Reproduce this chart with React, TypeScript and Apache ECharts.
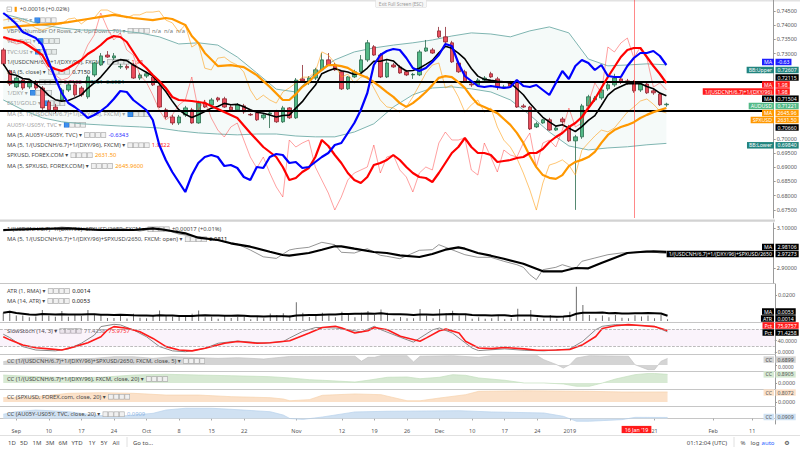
import React, { useEffect, useRef } from "react";
import * as echarts from "echarts";

const FONT = "'Noto Sans', 'DejaVu Sans', sans-serif";

// ---------- categories: trading days ----------
const FIRST_DAY = "2018-08-30";
const LAST_DAY = "2019-02-14";
const SKIPPED_DAYS = ["2018-12-25", "2019-01-01"];
const MONTH_NAMES = ["Jan", "Feb", "Mar", "Apr", "May", "Jun", "Jul", "Aug", "Sep", "Oct", "Nov", "Dec"];
const CROSSHAIR_INDEX = 97; // 16 Jan '19
const COVERED_TICKS = [95]; // "14" sits under the crosshair date label

function tradingDays() {
  const out: string[] = [];
  const d = new Date(FIRST_DAY + "T00:00:00Z");
  const end = new Date(LAST_DAY + "T00:00:00Z");
  while (d <= end) {
    const wd = d.getUTCDay();
    const s = d.toISOString().slice(0, 10);
    if (wd !== 0 && wd !== 6 && SKIPPED_DAYS.indexOf(s) < 0) out.push(s);
    d.setUTCDate(d.getUTCDate() + 1);
  }
  return out;
}
const days = tradingDays();

function buildTickLabels() {
  const res: Record<number, string> = {};
  const monthStarts: number[] = [];
  days.forEach((s, i) => {
    if (i > 0 && s.slice(5, 7) !== days[i - 1].slice(5, 7)) monthStarts.push(i);
  });
  monthStarts.forEach((i) => {
    const m = +days[i].slice(5, 7);
    res[i] = m === 1 ? days[i].slice(0, 4) : MONTH_NAMES[m - 1];
  });
  days.forEach((s, i) => {
    const wd = new Date(s + "T00:00:00Z").getUTCDay();
    if (wd === 1 && !(i in res) && COVERED_TICKS.indexOf(i) < 0 && monthStarts.every((m) => Math.abs(m - i) > 4))
      res[i] = String(+s.slice(8));
  });
  return res;
}
const TICK_LABELS = buildTickLabels();

// ---------- AUDUSD daily candles ----------
const audOpen = [0.7313,0.7239,0.7183,0.7207,0.7183,0.7200,0.7179,0.7130,0.7112,0.7137,
0.7172,0.7190,0.7179,0.7148,0.7225,0.7260,0.7295,0.7285,0.7253,0.7255,
0.7260,0.7214,0.7221,0.7218,0.7186,0.7102,0.7077,0.7056,0.7084,0.7102,
0.7056,0.7126,0.7119,0.7144,0.7141,0.7112,0.7102,0.7116,0.7086,0.7091,
0.7074,0.7088,0.7098,0.7060,0.7109,0.7074,0.7211,0.7197,0.7214,0.7243,
0.7278,0.7260,0.7236,0.7176,0.7218,0.7236,0.7278,0.7324,0.7295,0.7218,
0.7260,0.7253,0.7236,0.7225,0.7225,0.7309,0.7313,0.7380,0.7359,0.7338,
0.7267,0.7236,0.7193,0.7190,0.7207,0.7229,0.7211,0.7179,0.7197,0.7200,
0.7116,0.7112,0.7042,0.7056,0.7067,0.7031,0.7070,0.7042,0.6993,0.7007,
0.7116,0.7137,0.7144,0.7176,0.7190,0.7211,0.7204,0.7200,0.7172,0.7193,
0.7169,0.7158,0.7120];
const audClose = [0.7264,0.7193,0.7214,0.7179,0.7197,0.7179,0.7109,0.7102,0.7102,0.7172,
0.7190,0.7155,0.7155,0.7218,0.7267,0.7292,0.7288,0.7292,0.7255,0.7250,
0.7214,0.7225,0.7229,0.7190,0.7112,0.7077,0.7056,0.7077,0.7109,0.7056,
0.7126,0.7112,0.7137,0.7137,0.7112,0.7102,0.7119,0.7095,0.7084,0.7067,
0.7084,0.7091,0.7060,0.7109,0.7074,0.7207,0.7204,0.7214,0.7243,0.7278,
0.7260,0.7243,0.7176,0.7218,0.7236,0.7278,0.7338,0.7295,0.7218,0.7267,
0.7253,0.7232,0.7225,0.7227,0.7306,0.7320,0.7302,0.7359,0.7341,0.7271,
0.7236,0.7200,0.7190,0.7207,0.7214,0.7218,0.7183,0.7183,0.7186,0.7112,
0.7112,0.7035,0.7053,0.7067,0.7031,0.7038,0.7060,0.6993,0.7007,0.7116,
0.7148,0.7144,0.7172,0.7190,0.7214,0.7200,0.7197,0.7169,0.7193,0.7162,
0.7162,0.7120,0.71221];
const audHigh = [0.7320,0.7243,0.7221,0.7214,0.7204,0.7207,0.7186,0.7137,0.7123,0.7179,
0.7197,0.7197,0.7186,0.7225,0.7271,0.7302,0.7309,0.7302,0.7264,0.7262,
0.7267,0.7232,0.7236,0.7225,0.7190,0.7109,0.7084,0.7084,0.7116,0.7109,
0.7134,0.7137,0.7144,0.7148,0.7148,0.7119,0.7126,0.7123,0.7091,0.7095,
0.7088,0.7095,0.7102,0.7116,0.7112,0.7214,0.7260,0.7221,0.7250,0.7302,
0.7302,0.7267,0.7240,0.7221,0.7243,0.7295,0.7348,0.7330,0.7302,0.7278,
0.7267,0.7260,0.7243,0.7232,0.7313,0.7348,0.7320,0.7394,0.7394,0.7345,
0.7274,0.7243,0.7200,0.7214,0.7221,0.7236,0.7218,0.7190,0.7204,0.7204,
0.7123,0.7116,0.7060,0.7070,0.7074,0.7045,0.7077,0.7049,0.7014,0.7123,
0.7155,0.7151,0.7179,0.7197,0.7229,0.7218,0.7211,0.7207,0.7200,0.7200,
0.7176,0.7165,0.7127];
const audLow = [0.7257,0.7186,0.7179,0.7172,0.7176,0.7172,0.7102,0.7095,0.7091,0.7130,
0.7165,0.7148,0.7148,0.7141,0.7218,0.7257,0.7285,0.7278,0.7246,0.7243,
0.7211,0.7207,0.7214,0.7186,0.7109,0.7070,0.7049,0.7049,0.7077,0.7053,
0.7053,0.7109,0.7112,0.7130,0.7109,0.7095,0.7095,0.7088,0.7081,0.7063,
0.7067,0.7038,0.7056,0.7056,0.7070,0.7070,0.7197,0.7190,0.7207,0.7239,
0.7257,0.7239,0.7172,0.7172,0.7214,0.7232,0.7271,0.7292,0.7214,0.7214,
0.7250,0.7229,0.7221,0.7211,0.7221,0.7306,0.7299,0.7355,0.7334,0.7267,
0.7232,0.7197,0.7183,0.7186,0.7204,0.7214,0.7172,0.7176,0.7183,0.7109,
0.7109,0.7031,0.7038,0.7053,0.7028,0.7028,0.7053,0.6989,0.6750,0.7000,
0.7109,0.7130,0.7137,0.7169,0.7183,0.7193,0.7190,0.7162,0.7165,0.7158,
0.7155,0.7116,0.7113];

// Bollinger bands (20, 2), read every 3rd bar
const BB_IDX = [0,3,6,9,12,15,18,21,24,27,30,33,36,39,42,45,48,51,54,57,60,63,66,69,72,75,78,81,84,87,90,93,96,99,102];
const bbUpper = [0.7440,0.7422,0.7401,0.7390,0.7383,0.7383,0.7380,0.7373,0.7359,0.7334,
0.7338,0.7330,0.7288,0.7232,0.7175,0.7165,0.7232,0.7278,0.7306,0.7320,
0.7330,0.7338,0.7348,0.7362,0.7373,0.7369,0.7359,0.7380,0.7394,0.7373,
0.7281,0.7257,0.7260,0.7264,0.72607];
const bbLower = [0.7137,0.7102,0.7074,0.7060,0.7053,0.7049,0.7045,0.7042,0.7038,0.7028,
0.7021,0.7017,0.7014,0.7017,0.7017,0.7010,0.7007,0.7007,0.7024,0.7053,
0.7112,0.7155,0.7179,0.7183,0.7176,0.7165,0.7137,0.7084,0.7024,0.6975,
0.6961,0.6968,0.6972,0.6979,0.6984];
const LEVEL_LINES = [0.72115, 0.7066];

// 1/(USDCNH/6.7)+1/(DXY/96), FXCM
const cnhDxy = [1.9900,1.9894,1.9888,1.9890,1.9892,1.9880,1.9856,1.9836,1.9826,1.9816,
1.9820,1.9836,1.9856,1.9886,1.9906,1.9950,1.9920,1.9896,1.9910,1.9876,
1.9866,1.9826,1.9812,1.9786,1.9756,1.9736,1.9746,1.9766,1.9776,1.9822,
1.9756,1.9776,1.9740,1.9716,1.9702,1.9722,1.9730,1.9696,1.9662,1.9640,
1.9662,1.9630,1.9602,1.9582,1.9696,1.9682,1.9690,1.9696,1.9642,1.9616,
1.9590,1.9556,1.9582,1.9616,1.9630,1.9636,1.9642,1.9686,1.9630,1.9662,
1.9666,1.9636,1.9622,1.9592,1.9630,1.9642,1.9636,1.9690,1.9712,1.9696,
1.9696,1.9700,1.9636,1.9626,1.9690,1.9662,1.9632,1.9676,1.9666,1.9662,
1.9690,1.9710,1.9642,1.9690,1.9696,1.9682,1.9716,1.9760,1.9722,1.9730,
1.9770,1.9810,1.9790,1.9882,1.9872,1.9890,1.9900,1.9860,1.9882,1.9860,
1.9802,1.9810,1.9796];
// MA(5) of it, read at its vertices [bar, value]
const cnhDxyMa = [[0,1.9902],[1,1.9898],[3,1.9892],[4,1.9884],[6,1.9866],[7,1.9844],[8,1.9838],[9,1.9834],[10,1.9840],[12,1.9856],
[13,1.9868],[14,1.9876],[15,1.9886],[16,1.9898],[17,1.9904],[18,1.9902],[19,1.9892],[20,1.9872],[21,1.9852],[22,1.9840],
[23,1.9826],[24,1.9814],[25,1.9800],[26,1.9782],[27,1.9776],[29,1.9774],[31,1.9770],[33,1.9758],[35,1.9746],[36,1.9740],
[38,1.9710],[40,1.9682],[42,1.9662],[43,1.9642],[44,1.9616],[45,1.9620],[46,1.9632],[47,1.9640],[48,1.9662],[49,1.9696],
[50,1.9684],[51,1.9666],[52,1.9650],[53,1.9630],[54,1.9616],[55,1.9610],[56,1.9622],[57,1.9646],[58,1.9650],[59,1.9656],
[60,1.9666],[61,1.9656],[62,1.9642],[63,1.9630],[64,1.9622],[65,1.9620],[66,1.9612],[67,1.9630],[68,1.9650],[69,1.9670],
[70,1.9682],[71,1.9700],[72,1.9682],[73,1.9670],[74,1.9670],[75,1.9666],[76,1.9652],[77,1.9654],[78,1.9656],[79,1.9660],
[80,1.9662],[81,1.9670],[82,1.9670],[83,1.9678],[84,1.9692],[85,1.9702],[86,1.9710],[87,1.9722],[88,1.9730],[89,1.9742],
[90,1.9760],[91,1.9778],[92,1.9800],[93,1.9822],[94,1.9842],[95,1.9862],[96,1.9876],[97,1.9880],[98,1.9880],[99,1.9862],
[100,1.9844],[101,1.9828],[102,1.9810]];

// MA(5, AU05Y-US05Y, TVC)
const au5us5Ma = [-0.530,-0.540,-0.552,-0.568,-0.574,-0.580,-0.594,-0.628,-0.660,-0.690,
-0.710,-0.718,-0.728,-0.740,-0.734,-0.726,-0.716,-0.702,-0.686,-0.688,
-0.704,-0.714,-0.724,-0.744,-0.794,-0.824,-0.848,-0.868,-0.888,-0.854,
-0.830,-0.818,-0.814,-0.818,-0.836,-0.834,-0.840,-0.858,-0.864,-0.838,
-0.840,-0.818,-0.812,-0.814,-0.830,-0.828,-0.840,-0.838,-0.828,-0.818,
-0.810,-0.794,-0.790,-0.770,-0.750,-0.724,-0.690,-0.634,-0.614,-0.606,
-0.602,-0.604,-0.620,-0.640,-0.646,-0.640,-0.628,-0.614,-0.592,-0.596,
-0.630,-0.656,-0.666,-0.676,-0.678,-0.676,-0.678,-0.680,-0.678,-0.664,
-0.676,-0.678,-0.674,-0.684,-0.694,-0.670,-0.646,-0.662,-0.636,-0.624,
-0.630,-0.644,-0.634,-0.656,-0.658,-0.658,-0.636,-0.620,-0.610,-0.610,
-0.606,-0.616,-0.634];

// SPXUSD, FOREX.COM
const spx = [2900,2903,2906,2897,2889,2877,2871,2877,2886,2889,
2903,2906,2889,2903,2906,2929,2929,2920,2915,2906,
2915,2915,2923,2923,2926,2900,2892,2866,2886,2822,
2834,2761,2756,2790,2793,2779,2770,2750,2698,2669,
2683,2669,2660,2692,2704,2718,2735,2735,2750,2808,
2799,2776,2735,2744,2718,2735,2738,2704,2669,2649,
2646,2634,2649,2678,2712,2747,2770,2776,2704,2712,
2678,2634,2655,2669,2634,2646,2591,2553,2533,2501,
2458,2409,2351,2429,2481,2487,2496,2481,2452,2524,
2545,2565,2582,2577,2588,2611,2634,2649,2666,2672,
2657,2637,2631.5];
const spxMa = [[0,2877],[3,2883],[5,2886],[8,2889],[10,2894],[13,2903],[15,2909],[17,2915],[18,2912],[20,2906],
[23,2900],[25,2906],[26,2903],[28,2886],[29,2854],[30,2834],[31,2805],[33,2767],[35,2770],[37,2764],
[39,2741],[41,2707],[43,2669],[44,2669],[45,2686],[46,2707],[47,2721],[48,2741],[49,2756],[50,2770],
[51,2770],[52,2767],[53,2762],[54,2750],[55,2741],[56,2733],[57,2721],[58,2707],[59,2692],[60,2678],
[61,2660],[62,2649],[63,2660],[64,2675],[65,2692],[66,2712],[67,2733],[68,2738],[69,2735],[70,2721],
[71,2704],[72,2678],[73,2657],[74,2649],[75,2640],[76,2631],[77,2614],[78,2597],[79,2574],[80,2545],
[81,2507],[82,2475],[83,2452],[84,2444],[85,2441],[86,2452],[87,2478],[88,2490],[89,2496],[90,2504],
[91,2519],[92,2545],[93,2568],[94,2582],[95,2591],[96,2597],[97,2605],[98,2617],[99,2626],[100,2634],
[101,2640],[102,2645.96]];

// 1/(USDCNH/6.7)+1/(DXY/96)+SPXUSD/2650 pane
const comboRaw = [[0,3.085],[3,3.10],[6,3.09],[9,3.105],[12,3.095],[15,3.09],[18,3.10],[21,3.085],[24,3.10],[27,3.07],
[30,3.055],[33,3.04],[36,3.02],[38,2.99],[40,2.956],[42,2.948],[44,2.99],[45,2.9965],[47,3.0035],[49,3.0285],
[51,3.0165],[52,2.9785],[54,2.975],[56,2.9965],[58,2.9635],[59,2.9585],[61,2.9465],[64,2.9885],[66,2.9915],[67,3.0165],
[69,2.9915],[71,2.9665],[73,2.9535],[75,2.9535],[77,2.9335],[79,2.9165],[80,2.9035],[81,2.8665],[82,2.8415],[83,2.8915],
[85,2.9035],[86,2.9165],[88,2.8965],[89,2.9335],[91,2.95],[93,2.9665],[95,2.975],[97,2.9785],[99,2.9865],[101,2.975],
[102,2.97273]];
const comboMa = [[0,3.09],[5,3.095],[10,3.0985],[15,3.09],[20,3.09],[23,3.0985],[25,3.09],[28,3.0735],[30,3.0515],[33,3.04],
[35,3.0235],[38,3.0065],[41,2.9815],[43,2.965],[44,2.9615],[47,2.975],[49,2.9915],[51,3.0085],[52,3.0085],[54,2.9965],
[57,2.98],[59,2.975],[61,2.9635],[64,2.955],[66,2.97],[68,2.9915],[70,3.0035],[71,2.9965],[73,2.975],[75,2.9615],
[77,2.9465],[80,2.9215],[82,2.8965],[83,2.8835],[86,2.8835],[88,2.90],[90,2.8985],[92,2.925],[94,2.95],[96,2.975],
[98,2.98],[100,2.9835],[102,2.98106]];

// SlowStoch (14, 3)
const stochK = [[0,63],[1,51],[3,19],[5,7],[8,4],[10,11],[12,31],[14,60],[15,90],[17,98],
[18,96],[20,78],[22,54],[24,19],[26,4],[28,1],[31,13],[33,31],[36,39],[40,31],
[43,37],[44,50],[46,73],[48,87],[51,85],[53,79],[55,71],[57,91],[58,79],[61,52],
[63,35],[66,79],[67,85],[69,67],[72,14],[73,5],[77,11],[80,6],[83,4],[87,11],
[89,38],[91,79],[92,91],[94,97],[100,91],[102,71.4258]];
const stochD = [[0,54],[1,43],[3,25],[5,15],[7,11],[9,7],[11,19],[13,33],[15,54],[16,78],
[17,90],[19,84],[21,72],[23,48],[25,19],[27,7],[29,4],[31,13],[34,31],[36,37],
[39,31],[41,33],[44,40],[47,67],[49,87],[51,91],[52,85],[54,67],[56,75],[57,87],
[59,79],[61,56],[64,38],[65,50],[67,75],[68,81],[70,67],[71,38],[73,14],[75,12],
[77,16],[80,11],[82,6],[85,7],[87,9],[89,26],[91,55],[92,83],[94,93],[96,97],
[98,94],[100,90],[102,75.9757]];
const STOCH_BANDS = [20, 80];

// Correlation coefficients
const cc1 = [[0,0.35],[3,0.7],[6,0.77],[10,0.63],[14,0.7],[17,0.87],[20,0.87],[23,0.7],[26,0.87],[30,0.77],
[33,0.7],[36,0.77],[40,0.63],[42,0.77],[44,0.9],[54,0.92],[55,0.39],[56,0.81],[57,0.81],[58,0.98],
[62,0.98],[63,0.32],[64,0.92],[69,0.98],[73,0.81],[75,0.98],[82,0.98],[83,0.56],[85,0.03],[86,-0.32],
[87,0.03],[88,0.74],[90,0.98],[96,0.92],[97,0.03],[99,-0.49],[100,-0.49],[101,0.39],[102,0.6899]];
const cc2 = [[0,0.82],[5,0.65],[10,0.55],[15,0.59],[20,0.82],[25,0.9],[30,0.82],[35,0.75],[41,0.65],[44,0.52],
[47,0.34],[49,0.28],[54,0.1],[56,0.28],[59,0.59],[62,0.62],[64,0.44],[67,0.59],[69,0.86],[71,0.79],
[73,0.52],[77,0.28],[80,0],[83,0],[86,-0.1],[88,-0.34],[90,-0.34],[92,0],[94,0.41],[97,0.86],
[99,0.98],[100,0.98],[102,0.8905]];
const cc3 = [[0,0.35],[5,0.43],[10,0.7],[15,0.75],[20,0.7],[25,0.56],[30,0.56],[35,0.43],[41,0.35],[43,0.24],
[44,0.1],[47,0.19],[49,0.54],[54,0.65],[58,0.59],[62,0.1],[64,0.1],[67,0.32],[71,0.59],[73,0.86],
[80,0.91],[90,0.86],[95,0.81],[102,0.8072]];
const cc4 = [[0,0.37],[2,0.59],[5,0.74],[10,0.59],[14,0.3],[17,0.16],[20,0.3],[23,0.45],[25,0.74],[28,0.89],
[32,0.89],[35,0.8],[41,0.59],[43,0.3],[44,0.0],[46,-0.08],[49,0.13],[54,0.57],[59,0.63],[70,0.68],
[75,0.57],[83,0.48],[86,0.19],[88,-0.24],[90,-0.24],[95,-0.1],[97,0.1],[102,0.0909]];

// axis tick labels (those hidden behind the price tags are left out)
const PRICE_TICKS = [0.675, 0.68, 0.685, 0.69, 0.695, 0.70, 0.73, 0.735, 0.74, 0.745];
const COMBO_TICKS = [2.9, 3.1];
const ATR_TICKS = [0.02];
const STOCH_TICKS = [0, 40];
const ZERO_TICK = [0];

// ---------- helpers ----------
function movingAvg(arr: number[], n: number) {
  return arr.map((_, i) => {
    const w = arr.slice(Math.max(0, i - n + 1), i + 1);
    return +(w.reduce((a, b) => a + b, 0) / w.length).toFixed(5);
  });
}
const trueRange = audHigh.map((h, i) =>
  +(i === 0 ? h - audLow[0] : Math.max(h, audClose[i - 1]) - Math.min(audLow[i], audClose[i - 1])).toFixed(5)
);

const GRIDS = [
  { top: 0, height: 218 },
  { top: 223, height: 60 },
  { top: 284, height: 38 },
  { top: 323, height: 31 },
  { top: 355, height: 16 },
  { top: 372, height: 17 },
  { top: 390, height: 16 },
  { top: 407, height: 17 },
];

function yAx(gridIndex: number, min: number, max: number, ticks: number[] | null, digits: number, fs = 5.5, va = "middle") {
  return {
    type: "value", gridIndex, position: "right", min, max,
    axisLine: { show: true, lineStyle: { color: "#9a9a9a", width: 1 } },
    axisTick: ticks ? { show: true, length: 2, customValues: ticks, lineStyle: { color: "#9a9a9a" } } : { show: false },
    axisLabel: ticks
      ? { show: true, customValues: ticks, formatter: (v: number) => v.toFixed(digits), fontSize: fs, color: "#555", margin: 3, fontFamily: FONT, verticalAlign: va }
      : { show: false },
    splitLine: { show: false },
  };
}

const LEG = {
  t: { fontSize: 5.8, fill: "#474747", fontFamily: FONT },
  g: { fontSize: 5.8, fill: "#a3a3a3", fontFamily: FONT },
  m: { fontSize: 5.8, fill: "#7a7a7a", fontFamily: FONT },
  k: { fontSize: 5.8, fill: "#111", fontFamily: FONT },
  r: { fontSize: 5.8, fill: "#ff1a1a", fontFamily: FONT },
  rb: { fontSize: 5.8, fill: "#c2185b", fontFamily: FONT },
  b: { fontSize: 5.8, fill: "#2a2aff", fontFamily: FONT },
  o: { fontSize: 5.8, fill: "#ff9800", fontFamily: FONT },
  tl: { fontSize: 5.8, fill: "#26877f", fontFamily: FONT },
  lb: { fontSize: 5.8, fill: "#90b8e6", fontFamily: FONT },
  gy: { fontSize: 5.8, fill: "#777", fontFamily: FONT },
  ic: { width: 4.2, height: 4.2, backgroundColor: "#f0f0f0", borderColor: "#a8a8a8", borderWidth: 0.6 },
  ib: { width: 4.2, height: 4.2, backgroundColor: "#3d8ff0", borderColor: "#1c6fd6", borderWidth: 0.6 },
  bx: { width: 4.6, height: 4.6, borderColor: "#999", borderWidth: 0.6, fontSize: 5, fill: "#777", align: "center" },
  or: { width: 2.2, height: 5, backgroundColor: "#ff9800" },
  s: { width: 1.3 },
  sp: { width: 3 },
};
function icons(blue = false) {
  return (blue ? "{ib| }" : "{ic| }") + "{s| }{ic| }{s| }{ic| }{s| }{ic| }";
}
// [y, rich text, z]  (main-pane rows sit under the plot, CC rows above their fills)
const LEGEND_ROWS: [number, string, number][] = [
  [9.3, "{bx|−}{sp| }{or| }{sp| }{t|+0.00016 (+0.02%)}", 1],
  [20.3, "{g|TVC:VIX ▾}{sp| }" + icons(true), 1],
  [30.7, "{m|VBPV (Number Of Rows, 24, Up/Down, 70) ▾}{sp| }" + icons() + "{sp| }{m|n/a  n/a  n/a}", 1],
  [41, "{g|VIX (TVC) ▾}{sp| }" + icons(true), 1],
  [51.7, "{g|TVC:USI ▾}{sp| }" + icons(true), 1],
  [61.7, "{t|1/(USDCNH/6.7)+1/(DXY/96), FXCM ▾}{sp| }" + icons() + "{sp| }{r|1.98}", 1],
  [71.7, "{t|MA (5, close) ▾}{sp| }" + icons() + "{sp| }{k|0.7150}", 1],
  [82.3, "{t|BB (20, 2) ▾}{sp| }" + icons() + "{sp| }{rb|0.7122}{sp| }{tl|0.7261}{sp| }{tl|0.6984}", 1],
  [92.7, "{g|1/DXY ▾}{sp| }" + icons(true), 1],
  [103.3, "{g|ES1!/GOLD ▾}{sp| }" + icons(true), 1],
  [114.3, "{g|MA (5, 1/(USDCNH/6.7)+1/(DXY/96), FXCM) ▾}{sp| }" + icons(true), 1],
  [124.7, "{g|AU05Y-US05Y, TVC ▾}{sp| }" + icons(true), 1],
  [135, "{t|MA (5, AU05Y-US05Y, TVC) ▾}{sp| }" + icons() + "{sp| }{b|-0.6343}", 1],
  [145.3, "{t|MA (5, 1/(USDCNH/6.7)+1/(DXY/96), FXCM) ▾}{sp| }" + icons() + "{sp| }{r|1.9822}", 1],
  [155.3, "{t|SPXUSD, FOREX.COM ▾}{sp| }" + icons() + "{sp| }{o|2631.50}", 1],
  [166, "{t|MA (5, SPXUSD, FOREX.COM) ▾}{sp| }" + icons() + "{sp| }{o|2645.9600}", 1],
  [229.3, "{t|1/(USDCNH/6.7)+1/(DXY/96)+SPXUSD/2650, FXCM ▾}{sp| }" + icons() + "{sp| }{t|+0.00017 (+0.01%)}", 1],
  [239.3, "{t|MA (5, 1/(USDCNH/6.7)+1/(DXY/96)+SPXUSD/2650, FXCM: open) ▾}{sp| }" + icons() + "{sp| }{k|2.9811}", 1],
  [291, "{t|ATR (1, RMA) ▾}{sp| }" + icons() + "{sp| }{k|0.0014}", 10],
  [301, "{t|MA (14, ATR) ▾}{sp| }" + icons() + "{sp| }{k|0.0053}", 10],
  [330.7, "{t|SlowStoch (14, 3) ▾}{sp| }" + icons() + "{sp| }{gy|71.4258}{sp| }{r|75.9757}", 1],
  [361, "{t|CC (1/(USDCNH/6.7)+1/(DXY/96)+SPXUSD/2650, FXCM, close, 5) ▾}{sp| }" + icons(), 10],
  [379, "{t|CC (1/(USDCNH/6.7)+1/(DXY/96), FXCM, close, 20) ▾}{sp| }" + icons(), 10],
  [396.7, "{t|CC (SPXUSD, FOREX.com, close, 20) ▾}{sp| }" + icons(), 10],
  [414.3, "{t|CC (AU05Y-US05Y, TVC, close, 20) ▾}{sp| }" + icons() + "{sp| }{lb|0.0909}", 10],
];

const RIGHT_TAGS = [
  { y: 62, name: "MA", value: "-0.63", bg: "#1f1fff", fg: "#fff" },
  { y: 70, name: "BB:Upper", value: "0.72607", bg: "#22847e", fg: "#fff" },
  { y: 77.5, name: "", value: "0.72115", bg: "#000", fg: "#fff" },
  { y: 84.5, name: "MA", value: "1.98", bg: "#ff1a1a", fg: "#fff" },
  { y: 91.5, name: "1/(USDCNH/6.7)+1/(DXY/96)", value: "1.98", bg: "#ff1a1a", fg: "#fff" },
  { y: 98.7, name: "MA", value: "0.71504", bg: "#000", fg: "#fff" },
  { y: 106, name: "AUDUSD", value: "0.71221", bg: "#53b987", fg: "#fff" },
  { y: 113, name: "MA", value: "2645.96", bg: "#ff9800", fg: "#fff" },
  { y: 120, name: "SPXUSD", value: "2631.50", bg: "#ff9800", fg: "#fff" },
  { y: 127.5, name: "", value: "0.70660", bg: "#000", fg: "#fff" },
  { y: 145.3, name: "BB:Lower", value: "0.69840", bg: "#22847e", fg: "#fff" },
  { y: 247, name: "MA", value: "2.98106", bg: "#000", fg: "#fff" },
  { y: 254, name: "1/(USDCNH/6.7)+1/(DXY/96)+SPXUSD/2650", value: "2.97273", bg: "#000", fg: "#fff" },
  { y: 311.5, name: "MA", value: "0.0053", bg: "#000", fg: "#fff" },
  { y: 318.5, name: "ATR", value: "0.0014", bg: "#000", fg: "#fff" },
  { y: 325.5, name: "Pct", value: "75.9757", bg: "#ff1a1a", fg: "#fff" },
  { y: 332.5, name: "Pct", value: "71.4258", bg: "#000", fg: "#fff" },
  { y: 359.6, name: "CC", value: "0.6899", bg: "#d3d3d3", fg: "#444" },
  { y: 374.4, name: "CC", value: "0.8905", bg: "#d6e9d2", fg: "#555" },
  { y: 392.5, name: "CC", value: "0.8072", bg: "#fbe0c8", fg: "#555" },
  { y: 417, name: "CC", value: "0.0909", bg: "#cfe1f3", fg: "#555" },
];

const TOOLBAR_LEFT: [number, string][] = [[12, "1D"], [24, "5D"], [37, "1M"], [50, "3M"], [63, "6M"], [77, "YTD"], [92, "1Y"], [104, "5Y"], [116, "All"], [143, "Go to..."]];
const TOOLBAR_RIGHT: [number, string, string][] = [[707, "01:12:04 (UTC)", "#4a4a4a"], [743, "%", "#4a4a4a"], [755, "log", "#4a4a4a"], [768, "auto", "#2962ff"], [787, "⚙", "#333"]];

function tagStyle(text: string, bg: string, fg: string, align: string) {
  return { text, fontSize: 5.2, lineHeight: 5.4, fontFamily: FONT, fill: fg, backgroundColor: bg, padding: [0.7, 2, 0.4, 2], align, verticalAlign: "middle" };
}

function buildGraphic() {
  const els: any[] = [];
  els.push({ type: "rect", shape: { x: 0, y: 0, width: 800, height: 1.4 }, style: { fill: "#e2e2e2" }, z: 0, silent: true });
  els.push({ type: "rect", shape: { x: 0, y: 219.5, width: 775, height: 2.2 }, style: { fill: "#d2d2d2" }, z: 0, silent: true });
  [283.5, 322.5, 354.5, 371.5, 389.5, 406.5].forEach((y) =>
    els.push({ type: "line", shape: { x1: 0, y1: y, x2: 775, y2: y }, style: { stroke: "#c6c6c6", lineWidth: 1 }, z: 0, silent: true })
  );
  els.push({ type: "line", shape: { x1: 0, y1: 435.5, x2: 800, y2: 435.5 }, style: { stroke: "#e0e0e0", lineWidth: 1 }, z: 0, silent: true });
  els.push({ type: "line", shape: { x1: 127, y1: 437, x2: 127, y2: 447 }, style: { stroke: "#e0e0e0", lineWidth: 1 }, z: 0, silent: true });
  els.push({ type: "line", shape: { x1: 734, y1: 437, x2: 734, y2: 447 }, style: { stroke: "#e0e0e0", lineWidth: 1 }, z: 0, silent: true });
  els.push({
    type: "text", x: 401, y: 3.6, z: 20, silent: true,
    style: { text: "Exit Full Screen (ESC)", fontSize: 4.6, fontFamily: FONT, fill: "#9a9a9a", align: "center", verticalAlign: "middle", backgroundColor: "#f7f7f7", borderColor: "#dcdcdc", borderWidth: 0.5, padding: [1, 3] },
  });
  LEGEND_ROWS.forEach(([y, text, z]) =>
    els.push({ type: "text", x: 7, y, z, silent: true, style: { text, rich: LEG, fontSize: 5.8, fontFamily: FONT, fill: "#474747", align: "left", verticalAlign: "middle" } })
  );
  RIGHT_TAGS.forEach((t) => {
    if (t.name) els.push({ type: "text", x: 774, y: t.y, z: 30, silent: true, style: tagStyle(t.name, t.bg, t.fg, "right") });
    els.push({ type: "text", x: 775.5, y: t.y, z: 30, silent: true, style: tagStyle(t.value, t.bg, t.fg, "left") });
  });
  els.push({ type: "text", x: 636.5, y: 429.5, z: 30, silent: true, style: { text: "16 Jan '19", fontSize: 5.3, fontFamily: FONT, fill: "#fff", backgroundColor: "#ff1a1a", padding: [1.3, 3, 0.9, 3], align: "center", verticalAlign: "middle" } });
  TOOLBAR_LEFT.forEach(([x, s]) =>
    els.push({ type: "text", x, y: 442.5, z: 5, silent: true, style: { text: s, fontSize: 6, fontFamily: FONT, fill: "#4a4a4a", align: "center", verticalAlign: "middle" } })
  );
  TOOLBAR_RIGHT.forEach(([x, s, c]) =>
    els.push({ type: "text", x, y: 442.5, z: 5, silent: true, style: { text: s, fontSize: 6, fontFamily: FONT, fill: c, align: "center", verticalAlign: "middle" } })
  );
  return els;
}

function on(xi: number, yi: number) {
  return { xAxisIndex: xi, yAxisIndex: yi };
}

function buildOption() {
  const candles = audOpen.map((o, i) => [o, audClose[i], audLow[i], audHigh[i]]);
  const ma5 = movingAvg(audClose, 5);
  const atrMa = movingAvg(trueRange, 14);
  const bbLowerData = BB_IDX.map((i, k) => [i, bbLower[k]]);
  const bbWidthData = BB_IDX.map((i, k) => [i, +(bbUpper[k] - bbLower[k]).toFixed(5)]);

  const xAxis = GRIDS.map((_, gi) => ({
    type: "category", gridIndex: gi, data: days, boundaryGap: true,
    axisLine: { show: gi === 7, lineStyle: { color: "#c6c6c6" } },
    axisTick: gi === 7
      ? { show: true, alignWithLabel: true, length: 2, interval: (i: number) => i in TICK_LABELS, lineStyle: { color: "#aaa" } }
      : { show: false },
    axisLabel: gi === 7
      ? { show: true, interval: (i: number) => i in TICK_LABELS, formatter: (_v: string, i: number) => TICK_LABELS[i] || "", fontSize: 5.5, color: "#555", margin: 4, fontFamily: FONT }
      : { show: false },
    splitLine: { show: false },
  }));

  const yAxis = [
    yAx(0, 0.672136, 0.748872, PRICE_TICKS, 5),
    { type: "value", gridIndex: 0, show: false, min: 1.954, max: 1.9976 },
    { type: "value", gridIndex: 0, show: false, min: -0.94, max: -0.504 },
    { type: "value", gridIndex: 0, show: false, min: 2328, max: 2958 },
    yAx(1, 2.825, 3.125, COMBO_TICKS, 5),
    yAx(2, -0.000769, 0.02846, ATR_TICKS, 4),
    yAx(3, -7.08, 102.7, STOCH_TICKS, 4, 5.2),
    yAx(4, -0.632, 1.053, ZERO_TICK, 4, 5.0, "top"),
    yAx(5, -0.619, 1.134, ZERO_TICK, 4),
    yAx(6, -0.323, 0.968, ZERO_TICK, 4),
    yAx(7, -0.478, 1.0, null, 4),
  ];

  const line = (extra: any) => ({ type: "line", symbol: "none", showSymbol: false, silent: true, animation: false, ...extra });
  const ccArea = (gi: number, data: number[][], fill: string, stroke: string) =>
    line({ ...on(gi, gi + 3), data, lineStyle: { color: stroke, width: 0.7 }, areaStyle: { color: fill, opacity: 1 }, z: 2 });

  const series: any[] = [
    line({ ...on(0, 0), data: bbLowerData, stack: "bb", lineStyle: { color: "#7fb5b1", width: 1 }, z: 1 }),
    line({ ...on(0, 0), data: bbWidthData, stack: "bb", lineStyle: { color: "#7fb5b1", width: 1 }, areaStyle: { color: "rgba(38,140,130,0.065)" }, z: 1 }),
    {
      type: "candlestick", ...on(0, 0), data: candles, barWidth: 4, silent: true, z: 3,
      itemStyle: { color: "#53b987", color0: "#eb4d5c", borderColor: "#2a6b4c", borderColor0: "#8c2630", borderWidth: 0.8 },
      markLine: {
        silent: true, symbol: ["none", "none"], label: { show: false }, animation: false,
        data: [
          ...LEVEL_LINES.map((v) => ({ yAxis: v, lineStyle: { color: "#000", width: 2, type: "solid" } })),
          { xAxis: days[CROSSHAIR_INDEX], lineStyle: { color: "rgba(255,40,40,0.55)", width: 1, type: "solid" } },
        ],
      },
    },
    line({ ...on(0, 0), data: ma5, lineStyle: { color: "#000", width: 1.6 }, z: 4 }),
    line({ ...on(0, 3), data: spx, lineStyle: { color: "rgba(255,152,0,0.55)", width: 1 }, z: 4 }),
    line({ ...on(0, 3), data: spxMa, lineStyle: { color: "#ff9800", width: 2.2 }, z: 5 }),
    line({ ...on(0, 1), data: cnhDxy, lineStyle: { color: "rgba(255,30,30,0.42)", width: 1 }, z: 4 }),
    line({ ...on(0, 1), data: cnhDxyMa, lineStyle: { color: "#ff0000", width: 2.2 }, z: 5 }),
    line({ ...on(0, 2), data: au5us5Ma, lineStyle: { color: "#0000ff", width: 2.2 }, z: 5 }),

    line({ ...on(1, 4), data: comboRaw, lineStyle: { color: "#7a7a7a", width: 0.8 }, z: 3 }),
    line({ ...on(1, 4), data: comboMa, lineStyle: { color: "#000", width: 2.2 }, z: 4 }),

    { type: "bar", ...on(2, 5), data: trueRange, barWidth: 0.7, silent: true, itemStyle: { color: "#6d6d6d" }, z: 2 },
    line({ ...on(2, 5), data: atrMa, lineStyle: { color: "#000", width: 2 }, z: 4 }),

    line({
      ...on(3, 6), data: stochK, lineStyle: { color: "#8a8a8a", width: 1 }, z: 3,
      markArea: { silent: true, data: [[{ yAxis: STOCH_BANDS[0] }, { yAxis: STOCH_BANDS[1] }]], itemStyle: { color: "rgba(156,39,176,0.055)" } },
      markLine: {
        silent: true, symbol: ["none", "none"], label: { show: false }, animation: false,
        data: STOCH_BANDS.map((v) => ({ yAxis: v })), lineStyle: { color: "#a0a0a0", width: 0.7, type: "dashed" },
      },
    }),
    line({ ...on(3, 6), data: stochD, lineStyle: { color: "#ff1a1a", width: 1.6 }, z: 4 }),

    ccArea(4, cc1, "#d4d4d4", "#c4c4c4"),
    ccArea(5, cc2, "#d7e9d3", "#c4dfbe"),
    ccArea(6, cc3, "#fbe1c9", "#f7d2ae"),
    ccArea(7, cc4, "#d0e1f2", "#b9d2ec"),
  ];

  return {
    animation: false,
    backgroundColor: "#ffffff",
    textStyle: { fontFamily: FONT },
    grid: GRIDS.map((g) => ({ left: 0, width: 775, top: g.top, height: g.height, containLabel: false })),
    xAxis,
    yAxis,
    series,
    graphic: { elements: buildGraphic() },
  };
}

export default function App() {
  const ref = useRef<HTMLDivElement>(null);
  useEffect(() => {
    if (!ref.current) return;
    const chart = echarts.init(ref.current, null, { renderer: "svg" });
    chart.setOption(buildOption() as any);
    return () => chart.dispose();
  }, []);
  return (
    <div
      ref={ref}
      style={{ position: "fixed", left: 0, top: 0, width: 800, height: 450, background: "#fff" }}
    />
  );
}
